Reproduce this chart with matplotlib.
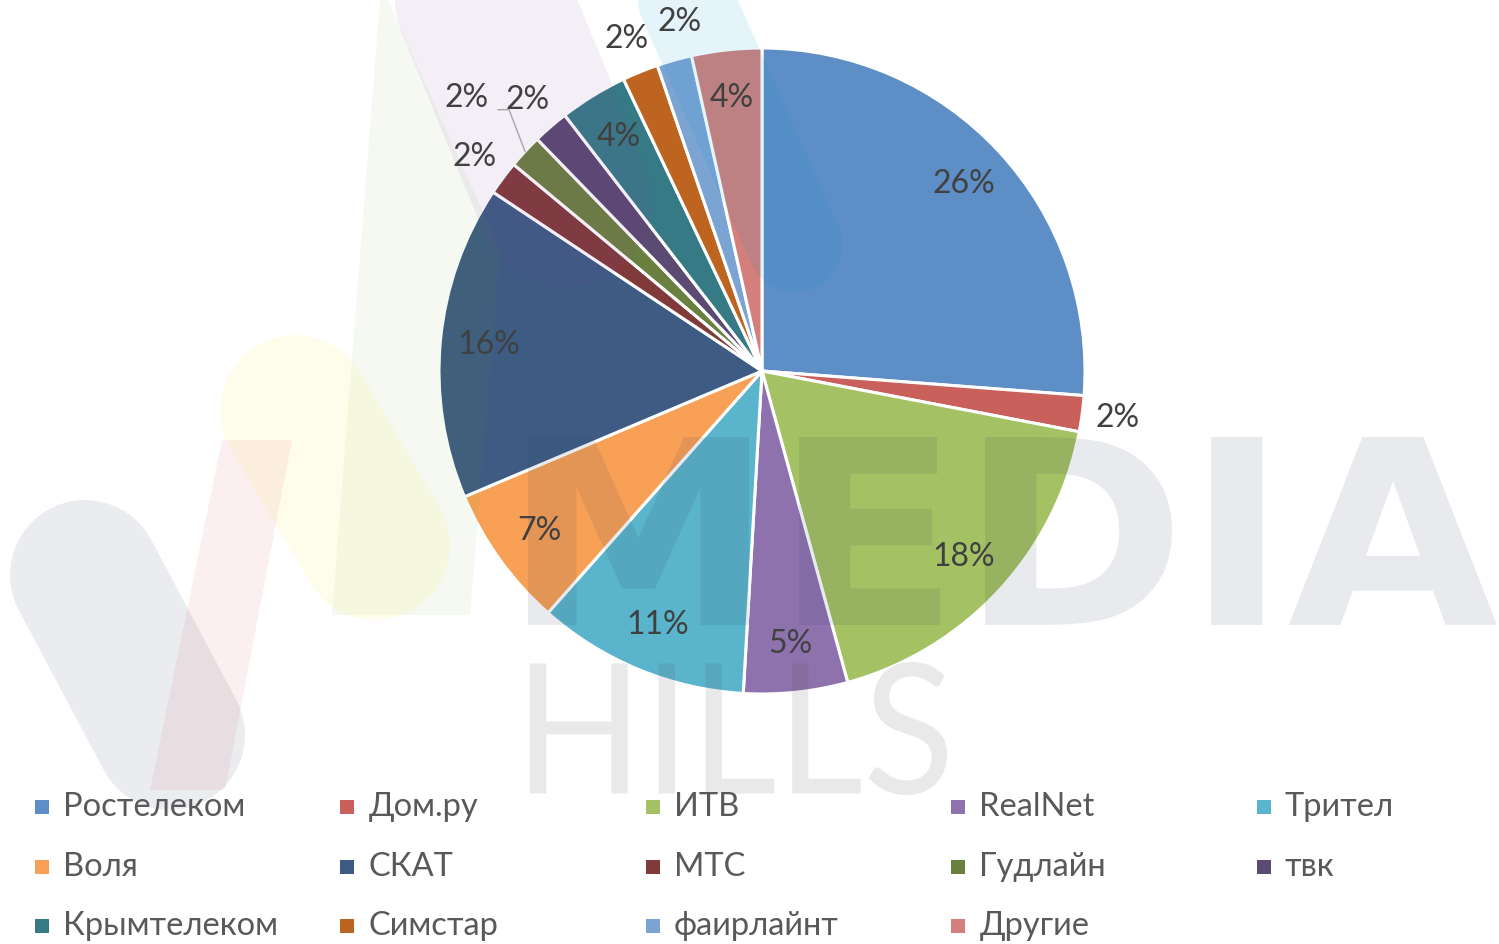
import numpy as np
import matplotlib
matplotlib.use('Agg')
import matplotlib.pyplot as plt
import matplotlib.transforms as mtransforms
from matplotlib.patches import PathPatch, Polygon, Rectangle
from matplotlib.textpath import TextPath
from matplotlib.font_manager import FontProperties

# Data
providers = ['Ростелеком', 'Дом.ру', 'ИТВ', 'RealNet', 'Трител',
             'Воля', 'СКАТ', 'МТС', 'Гудлайн', 'твк',
             'Крымтелеком', 'Симстар', 'фаирлайнт', 'Другие']
shares = [26.2, 1.8, 17.7, 5.2, 10.6, 7.1, 15.7, 1.7, 1.7, 1.8, 3.4, 1.8, 1.75, 3.5]
pct_labels = ['26%', '2%', '18%', '5%', '11%', '7%', '16%',
              '2%', '2%', '2%', '4%', '2%', '2%', '4%']
colors = ['#5e8ec6', '#c9605c', '#a4c263', '#8e72ad', '#5ab4cb',
          '#f8a055', '#3e5c83', '#813a3a', '#6a8040', '#5b4a72',
          '#367a85', '#bd6520', '#7ca4d3', '#d47f7b']

plt.rcParams['font.family'] = ['Lato', 'DejaVu Sans']

W, H = 1499, 944
cx, cy, R = 762, 371, 323   # pie centre / radius in pixels

fig = plt.figure(figsize=(W / 100, H / 100), dpi=100)
fig.patch.set_facecolor('white')
rect = [(cx - R) / W, (H - cy - R) / H, 2 * R / W, 2 * R / H]

# Pie
ax = fig.add_axes(rect, zorder=1)
wedges, _ = ax.pie(shares, colors=colors, startangle=90, counterclock=False,
                   wedgeprops=dict(edgecolor='white', linewidth=2.2))
ax.set_xlim(-1, 1)
ax.set_ylim(-1, 1)

# Watermark layer (pixel coordinates, y down)
wm = fig.add_axes([0, 0, 1, 1], zorder=2)
wm.set_xlim(0, W)
wm.set_ylim(H, 0)
wm.set_facecolor('none')
wm.axis('off')


def pill(p0, p1, diam, color, alpha):
    wm.plot([p0[0], p1[0]], [p0[1], p1[1]], lw=diam * 0.72, color=color,
            alpha=alpha, solid_capstyle='round')


def text_box(s, x0, x1, yt, yb, prop, color, alpha):
    tp = TextPath((0, 0), s, size=100, prop=prop)
    bb = tp.get_extents()
    tr = (mtransforms.Affine2D().translate(-bb.x0, -bb.y0)
          .scale((x1 - x0) / bb.width, -(yb - yt) / bb.height)
          .translate(x0, yb))
    wm.add_patch(PathPatch(tr.transform_path(tp), facecolor=color,
                           edgecolor='none', alpha=alpha))


# logo strokes
wm.add_patch(Polygon([(380, 0), (388, 0), (500, 250), (470, 615), (332, 615)],
                     closed=True, facecolor='#5aa028', edgecolor='none', alpha=0.06))
wm.add_patch(Polygon([(150, 790), (225, 790), (292, 440), (222, 440)],
                     closed=True, facecolor='#e65050', edgecolor='none', alpha=0.09))
pill((85, 575), (170, 735), 150, '#3c466e', 0.1)
pill((295, 410), (375, 545), 150, '#faeb3c', 0.1)
pill((450, -80), (565, 200), 175, '#783ca0', 0.08)
pill((650, -80), (795, 245), 95, '#0096d2', 0.1)
text_box('MEDIA', 528, 1497, 437, 625,
         FontProperties(family='DejaVu Sans', weight='bold'), '#2a3560', 0.1)
text_box('HILLS', 530, 947, 662, 795,
         FontProperties(family=['Lato', 'DejaVu Sans'], weight='normal'), '#505050', 0.12)

# Percentage labels
lab = fig.add_axes(rect, zorder=3)
lab.set_xlim(-1, 1)
lab.set_ylim(-1, 1)
lab.axis('off')
label_r_override = {'Гудлайн': 1.245}
label_nudge = {'фаирлайнт': -2.5}   # degrees, keeps the two top labels apart
for w, name, share, txt in zip(wedges, providers, shares, pct_labels):
    mid = np.deg2rad((w.theta1 + w.theta2) / 2)
    tmid = mid + np.deg2rad(label_nudge.get(name, 0))
    r = label_r_override.get(name, 0.85 if share > 3 else 1.11)
    x, y = r * np.cos(tmid), r * np.sin(tmid)
    lab.text(x, y, txt, ha='center', va='center', fontsize=23,
             color='#404040', clip_on=False)
    if name in label_r_override:
        sx, sy = x + 31 / R, y - 12 / R
        lab.plot([sx, sx + 11 / R, np.cos(mid)], [sy, sy, np.sin(mid)],
                 color='#a6a6a6', lw=1.0, clip_on=False)

# Legend (5 equal columns, as in the reference)
for i, (name, c) in enumerate(zip(providers, colors)):
    col, row = i % 5, i // 5
    x = 35 + 305.5 * col
    y = 807 + 59.5 * row
    wm.add_patch(Rectangle((x, y - 7), 14, 14, facecolor=c, edgecolor='none', zorder=5))
    wm.text(x + 28, y, name, ha='left', va='center', fontsize=23.5,
            color='#595959', zorder=5)

fig.savefig('out.png', dpi=100, facecolor='white')
